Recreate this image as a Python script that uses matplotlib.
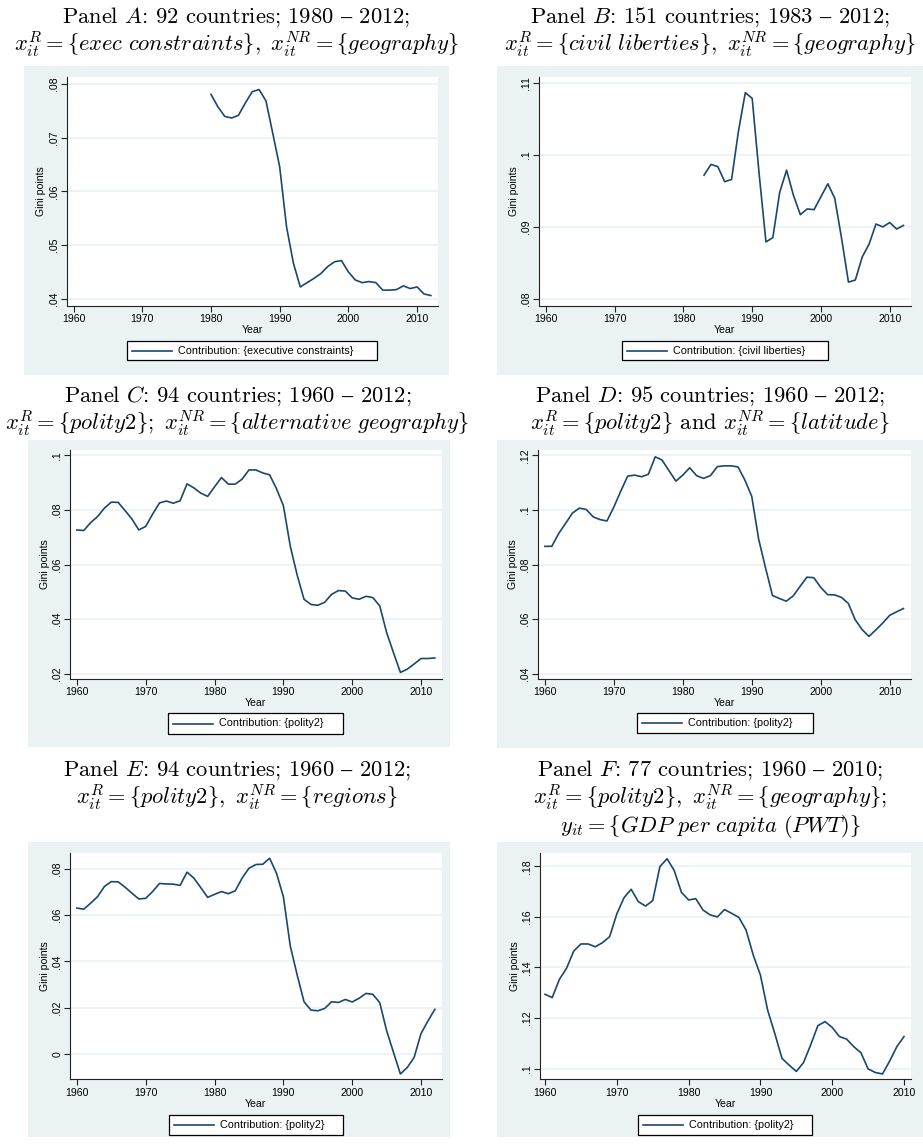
import matplotlib
matplotlib.use('Agg')
import matplotlib.pyplot as plt
from matplotlib.patches import Rectangle
from matplotlib.lines import Line2D
from matplotlib.ticker import FuncFormatter

plt.rcParams['mathtext.fontset'] = 'cm'
plt.rcParams['font.family'] = ['Liberation Sans', 'DejaVu Sans']

# ---- data ----
years_a = list(range(1980, 2013))
gini_a = [0.0781, 0.0758, 0.0740, 0.0737, 0.0742, 0.0765, 0.0786, 0.0790, 0.0769, 0.0708,
          0.0646, 0.0534, 0.0466, 0.0422, 0.0430, 0.0438, 0.0447, 0.0460, 0.0469, 0.0471,
          0.0450, 0.0435, 0.0430, 0.0432, 0.0430, 0.0416, 0.0416, 0.0417, 0.0424, 0.0419,
          0.0422, 0.0409, 0.0406]

years_b = list(range(1983, 2013))
gini_b = [0.0972, 0.0987, 0.0984, 0.0963, 0.0966, 0.1033, 0.1087, 0.1079, 0.0975, 0.0879,
          0.0885, 0.0948, 0.0979, 0.0944, 0.0917, 0.0925, 0.0924, 0.0942, 0.0960, 0.0940,
          0.0884, 0.0823, 0.0826, 0.0858, 0.0876, 0.0904, 0.0900, 0.0906, 0.0897, 0.0902]

years_c = list(range(1960, 2013))
gini_c = [0.0727, 0.0725, 0.0754, 0.0776, 0.0807, 0.0829, 0.0828, 0.0798, 0.0767, 0.0727,
          0.0740, 0.0785, 0.0826, 0.0833, 0.0825, 0.0834, 0.0896, 0.0881, 0.0862, 0.0850,
          0.0885, 0.0919, 0.0895, 0.0895, 0.0913, 0.0947, 0.0947, 0.0936, 0.0929, 0.0878,
          0.0816, 0.0668, 0.0562, 0.0473, 0.0454, 0.0451, 0.0462, 0.0491, 0.0505, 0.0503,
          0.0478, 0.0473, 0.0484, 0.0479, 0.0449, 0.0351, 0.0277, 0.0205, 0.0217, 0.0236,
          0.0256, 0.0256, 0.0258]

years_d = list(range(1960, 2013))
gini_d = [0.0867, 0.0867, 0.0914, 0.0951, 0.0989, 0.1007, 0.1002, 0.0975, 0.0965, 0.0960,
          0.1011, 0.1069, 0.1124, 0.1128, 0.1122, 0.1131, 0.1195, 0.1183, 0.1144, 0.1106,
          0.1128, 0.1155, 0.1126, 0.1116, 0.1126, 0.1159, 0.1162, 0.1162, 0.1158, 0.1110,
          0.1050, 0.0893, 0.0788, 0.0687, 0.0676, 0.0666, 0.0685, 0.0720, 0.0754, 0.0752,
          0.0717, 0.0690, 0.0689, 0.0680, 0.0658, 0.0598, 0.0562, 0.0537, 0.0561, 0.0586,
          0.0614, 0.0627, 0.0639]

years_e = list(range(1960, 2013))
gini_e = [0.0631, 0.0626, 0.0652, 0.0680, 0.0724, 0.0745, 0.0744, 0.0721, 0.0695, 0.0670,
          0.0673, 0.0702, 0.0737, 0.0735, 0.0734, 0.0729, 0.0786, 0.0760, 0.0719, 0.0677,
          0.0690, 0.0702, 0.0693, 0.0705, 0.0760, 0.0803, 0.0819, 0.0820, 0.0846, 0.0781,
          0.0680, 0.0467, 0.0342, 0.0226, 0.0190, 0.0187, 0.0197, 0.0226, 0.0223, 0.0236,
          0.0225, 0.0241, 0.0262, 0.0258, 0.0222, 0.0101, 0.0007, -0.0086, -0.0058, -0.0014,
          0.0089, 0.0143, 0.0193]

years_f = list(range(1960, 2011))
gini_f = [0.1294, 0.1281, 0.1353, 0.1397, 0.1465, 0.1493, 0.1493, 0.1482, 0.1498, 0.1522,
          0.1612, 0.1676, 0.1709, 0.1660, 0.1643, 0.1664, 0.1799, 0.1830, 0.1783, 0.1697,
          0.1667, 0.1672, 0.1627, 0.1608, 0.1600, 0.1629, 0.1614, 0.1598, 0.1548, 0.1449,
          0.1370, 0.1232, 0.1139, 0.1041, 0.1014, 0.0989, 0.1024, 0.1094, 0.1170, 0.1186,
          0.1163, 0.1127, 0.1117, 0.1087, 0.1063, 0.0999, 0.0985, 0.0979, 0.1030, 0.1087,
          0.1127]

x_ticks = [1960, 1970, 1980, 1990, 2000, 2010]
y_ticks_a = [0.04, 0.05, 0.06, 0.07, 0.08]
y_ticks_b = [0.08, 0.09, 0.10, 0.11]
y_ticks_c = [0.02, 0.04, 0.06, 0.08, 0.10]
y_ticks_d = [0.04, 0.06, 0.08, 0.10, 0.12]
y_ticks_e = [0.00, 0.02, 0.04, 0.06, 0.08]
y_ticks_f = [0.10, 0.12, 0.14, 0.16, 0.18]

legend_a = 'Contribution: {executive constraints}'
legend_b = 'Contribution: {civil liberties}'
legend_other = 'Contribution: {polity2}'

titles_a = [r'$\text{Panel }A\text{: 92 countries; 1980 – 2012;}$',
            r'$x_{it}^{R}=\lbrace exec\ constraints\rbrace,\ x_{it}^{NR}=\lbrace geography\rbrace$']
titles_b = [r'$\text{Panel }B\text{: 151 countries; 1983 – 2012;}$',
            r'$x_{it}^{R}=\lbrace civil\ liberties\rbrace,\ x_{it}^{NR}=\lbrace geography\rbrace$']
titles_c = [r'$\text{Panel }C\text{: 94 countries; 1960 – 2012;}$',
            r'$x_{it}^{R}=\lbrace polity2\rbrace;\ x_{it}^{NR}=\lbrace alternative\ geography\rbrace$']
titles_d = [r'$\text{Panel }D\text{: 95 countries; 1960 – 2012;}$',
            r'$x_{it}^{R}=\lbrace polity2\rbrace\text{ and }x_{it}^{NR}=\lbrace latitude\rbrace$']
titles_e = [r'$\text{Panel }E\text{: 94 countries; 1960 – 2012;}$',
            r'$x_{it}^{R}=\lbrace polity2\rbrace,\ x_{it}^{NR}=\lbrace regions\rbrace$']
titles_f = [r'$\text{Panel }F\text{: 77 countries; 1960 – 2010;}$',
            r'$x_{it}^{R}=\lbrace polity2\rbrace,\ x_{it}^{NR}=\lbrace geography\rbrace;$',
            r'$y_{it}=\lbrace GDP\ per\ capita\ (PWT)\rbrace$']

# ---- layout in pixels (left, top, right, bottom) ----
W, H = 923, 1147
BG = '#eaf2f3'
NAVY = '#1a476f'

panels = [
    dict(x=years_a, y=gini_a, yt=y_ticks_a, leg=legend_a, titles=titles_a,
         box=(24, 66, 449, 375), plot=(66.7, 76.7, 437.7, 305.7),
         lbox=(126.7, 341, 377, 360), xlim=(1959.0, 2013.0), ylim=(0.0387, 0.0814),
         tx=236.5, ty=[17, 45]),
    dict(x=years_b, y=gini_b, yt=y_ticks_b, leg=legend_b, titles=titles_b,
         box=(497, 66, 923, 375), plot=(539, 76.7, 910.7, 305.7),
         lbox=(621.7, 341, 827.7, 360), xlim=(1959.0, 2013.05), ylim=(0.07902, 0.11092),
         tx=710, ty=[17, 45]),
    dict(x=years_c, y=gini_c, yt=y_ticks_c, leg=legend_other, titles=titles_c,
         box=(28, 440, 450, 747), plot=(70, 450, 441.7, 678.7),
         lbox=(168, 713, 343, 734), xlim=(1959.0, 2013.0), ylim=(0.0182, 0.1020),
         tx=237.5, ty=[396, 424]),
    dict(x=years_d, y=gini_d, yt=y_ticks_d, leg=legend_other, titles=titles_d,
         box=(497, 440, 923, 748), plot=(538, 450, 910.7, 678.7),
         lbox=(636.7, 713, 812.7, 733), xlim=(1959.0, 2013.05), ylim=(0.0382, 0.1220),
         tx=710, ty=[396, 424]),
    dict(x=years_e, y=gini_e, yt=y_ticks_e, leg=legend_other, titles=titles_e,
         box=(28, 842, 450, 1137), plot=(70, 852.7, 441.7, 1079.3),
         lbox=(169, 1115, 342.7, 1135), xlim=(1959.0, 2013.0), ylim=(-0.0109, 0.0870),
         tx=237, ty=[770, 798]),
    dict(x=years_f, y=gini_f, yt=y_ticks_f, leg=legend_other, titles=titles_f,
         box=(497, 842, 923, 1137), plot=(540, 852.7, 910.7, 1079.3),
         lbox=(637.7, 1115, 811.7, 1135), xlim=(1959.3, 2010.93), ylim=(0.0958, 0.18538),
         tx=710, ty=[770, 798, 826]),
]


def fx(x):
    return x / W


def fy(y):
    return 1 - y / H


def stata_fmt(v, pos):
    if abs(v) < 1e-9:
        return '0'
    s = f'{v:.2f}'.rstrip('0')
    return s.replace('0.', '.', 1)


fig = plt.figure(figsize=(W / 100, H / 100), dpi=100)

for p in panels:
    l, t, r, b = p['box']
    fig.patches.append(Rectangle((fx(l), fy(b)), fx(r) - fx(l), fy(t) - fy(b),
                                 transform=fig.transFigure, facecolor=BG,
                                 edgecolor='none', zorder=-2))

    pl, pt, pr, pb = p['plot']
    ax = fig.add_axes([fx(pl), fy(pb), fx(pr) - fx(pl), fy(pt) - fy(pb)], zorder=1)
    ax.set_facecolor('white')
    ax.plot(p['x'], p['y'], color=NAVY, lw=1.2)
    ax.set_xlim(*p['xlim'])
    ax.set_ylim(*p['ylim'])
    ax.set_xticks(x_ticks)
    ax.set_yticks(p['yt'])
    ax.yaxis.set_major_formatter(FuncFormatter(stata_fmt))
    ax.yaxis.grid(True, color=BG, lw=1.2)
    ax.set_axisbelow(True)
    for s in ['top', 'right']:
        ax.spines[s].set_visible(False)
    for s in ['left', 'bottom']:
        ax.spines[s].set_color('#222222')
        ax.spines[s].set_linewidth(0.8)
    ax.tick_params(axis='both', length=4, width=0.8, color='#222222',
                   labelsize=7.6, pad=2)
    ax.tick_params(axis='y', labelrotation=90, pad=1.5)
    for lab in ax.get_yticklabels():
        lab.set_va('center')
    ax.set_xlabel('Year', fontsize=7.6, labelpad=1)
    ax.set_ylabel('Gini points', fontsize=7.6, labelpad=2)

    # legend box drawn the way Stata does it
    ll, lt, lr, lb = p['lbox']
    fig.patches.append(Rectangle((fx(ll), fy(lb)), fx(lr) - fx(ll), fy(lt) - fy(lb),
                                 transform=fig.transFigure, facecolor='white',
                                 edgecolor='black', lw=0.9, zorder=2))
    ym = fy((lt + lb) / 2)
    fig.lines.append(Line2D([fx(ll + 5), fx(ll + 45)], [ym, ym], transform=fig.transFigure,
                            color=NAVY, lw=1.2, zorder=3))
    fig.text(fx(ll + 51), ym, p['leg'], fontsize=7.8, va='center', ha='left', zorder=4)

    for txt, yy in zip(p['titles'], p['ty']):
        fig.text(fx(p['tx']), fy(yy), txt, fontsize=16.2, ha='center', va='center')

fig.savefig('out.png', dpi=100, facecolor='white')
